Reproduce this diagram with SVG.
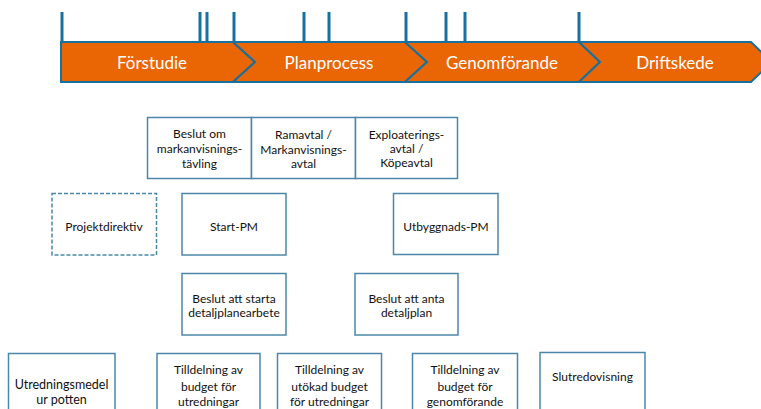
<svg xmlns="http://www.w3.org/2000/svg" width="761" height="409" viewBox="0 0 761 409">
<style>
.seg{fill:#EA6504;stroke:#1670A0;stroke-width:2;stroke-linejoin:miter}
.tick{stroke:#1670A0;stroke-width:3}
.phase{font-family:Lato,"Open Sans",sans-serif;font-size:17px;fill:#ffffff;text-anchor:middle}
.box{fill:#ffffff;stroke:#4C87A9;stroke-width:1.5}
.dash{fill:#ffffff;stroke:#4C87A9;stroke-width:1.5;stroke-dasharray:4,2}
.t{font-family:Lato,"Open Sans",sans-serif;font-size:12px;fill:#111111;text-anchor:middle}
</style>
<rect width="761" height="409" fill="#ffffff"/>
<g id="ticks">
<line class="tick" x1="62" y1="12" x2="62" y2="42"/>
<line class="tick" x1="200" y1="12" x2="200" y2="42"/>
<line class="tick" x1="207" y1="12" x2="207" y2="42"/>
<line class="tick" x1="234" y1="12" x2="234" y2="42"/>
<line class="tick" x1="304" y1="12" x2="304" y2="42"/>
<line class="tick" x1="329" y1="12" x2="329" y2="42"/>
<line class="tick" x1="406" y1="12" x2="406" y2="42"/>
<line class="tick" x1="446" y1="12" x2="446" y2="42"/>
<line class="tick" x1="465" y1="12" x2="465" y2="42"/>
<line class="tick" x1="579" y1="12" x2="579" y2="42"/>
</g>
<g id="phase-forstudie">
<path class="seg" d="M61,42 L233,42 L255,62 L233,82 L61,82 Z"/>
<text class="phase" x="152" y="69">Förstudie</text>
</g>
<g id="phase-planprocess">
<path class="seg" d="M233,42 L405,42 L427,62 L405,82 L233,82 L255,62 Z"/>
<text class="phase" x="329" y="69">Planprocess</text>
</g>
<g id="phase-genomforande">
<path class="seg" d="M405,42 L579,42 L600,62 L579,82 L405,82 L427,62 Z"/>
<text class="phase" x="502" y="69">Genomförande</text>
</g>
<g id="phase-driftskede">
<path class="seg" d="M579,42 L751,42 L772,62 L751,82 L579,82 L600,62 Z"/>
<text class="phase" x="675" y="69">Driftskede</text>
</g>
<g id="connectors"></g>
<g id="beslut-markanvisning">
<rect class="box" x="147.5" y="117.5" width="104" height="61"/>
<text class="t" x="199.5" y="138">Beslut om</text>
<text class="t" x="199.5" y="153">markanvisnings-</text>
<text class="t" x="199.5" y="168">tävling</text>
</g>
<g id="ramavtal">
<rect class="box" x="251.5" y="117.5" width="104" height="61"/>
<text class="t" x="303.5" y="139">Ramavtal /</text>
<text class="t" x="303.5" y="154">Markanvisnings-</text>
<text class="t" x="303.5" y="168">avtal</text>
</g>
<g id="exploateringsavtal">
<rect class="box" x="355.5" y="117.5" width="102" height="61"/>
<text class="t" x="406.5" y="139">Exploaterings-</text>
<text class="t" x="406.5" y="153">avtal /</text>
<text class="t" x="406.5" y="167">Köpeavtal</text>
</g>
<g id="projektdirektiv">
<rect class="dash" x="52" y="193.5" width="104.5" height="61.5"/>
<text class="t" x="104" y="231">Projektdirektiv</text>
</g>
<g id="start-pm">
<rect class="box" x="182" y="193.5" width="104" height="61.5"/>
<text class="t" x="234" y="231">Start-PM</text>
</g>
<g id="utbyggnads-pm">
<rect class="box" x="393.5" y="193.5" width="104.5" height="61"/>
<text class="t" x="446" y="231">Utbyggnads-PM</text>
</g>
<g id="beslut-starta">
<rect class="box" x="182" y="273.5" width="104" height="61.5"/>
<text class="t" x="234" y="302.5">Beslut att starta</text>
<text class="t" x="234" y="317">detaljplanearbete</text>
</g>
<g id="beslut-anta">
<rect class="box" x="355" y="273.5" width="103" height="61.5"/>
<text class="t" x="406.5" y="302.5">Beslut att anta</text>
<text class="t" x="406.5" y="317">detaljplan</text>
</g>
<g id="utredningsmedel">
<rect class="box" x="8.5" y="353.5" width="106.5" height="70"/>
<text class="t" x="61.5" y="388.5" style="font-size:12.5px">Utredningsmedel</text>
<text class="t" x="61.5" y="404" style="font-size:12.5px">ur potten</text>
</g>
<g id="tilldelning-utredningar">
<rect class="box" x="157" y="353.5" width="103" height="70"/>
<text class="t" x="208.5" y="374">Tilldelning av</text>
<text class="t" x="208.5" y="390.5">budget för</text>
<text class="t" x="208.5" y="406">utredningar</text>
</g>
<g id="tilldelning-utokad">
<rect class="box" x="277.5" y="353.5" width="104" height="70"/>
<text class="t" x="329.5" y="374">Tilldelning av</text>
<text class="t" x="329.5" y="390.5">utökad budget</text>
<text class="t" x="329.5" y="406">för utredningar</text>
</g>
<g id="tilldelning-genomforande">
<rect class="box" x="412.5" y="353.5" width="105" height="70"/>
<text class="t" x="465" y="374">Tilldelning av</text>
<text class="t" x="465" y="390.5">budget för</text>
<text class="t" x="465" y="406">genomförande</text>
</g>
<g id="slutredovisning">
<rect class="box" x="540" y="352.5" width="105" height="70"/>
<text class="t" x="592.5" y="381">Slutredovisning</text>
</g>
</svg>
